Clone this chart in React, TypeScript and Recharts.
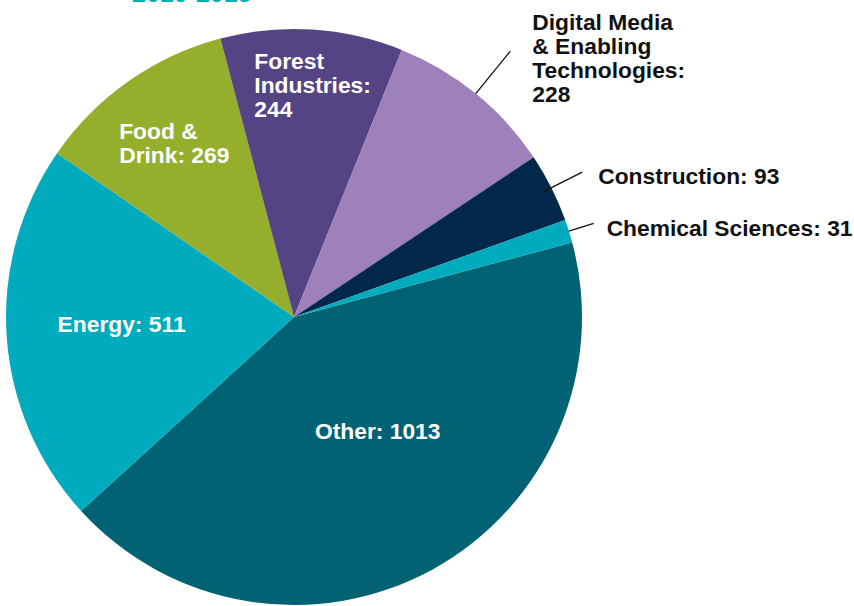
import { PieChart, Pie, Cell } from 'recharts';

const names = ['Other', 'Energy', 'Food & Drink', 'Forest Industries', 'Digital Media & Enabling Technologies', 'Construction', 'Chemical Sciences'];
const values = [1013, 511, 269, 244, 228, 93, 31];
const labelLines = [
  ['Other: 1013'],
  ['Energy: 511'],
  ['Food &', 'Drink: 269'],
  ['Forest', 'Industries:', '244'],
  ['Digital Media', '& Enabling', 'Technologies:', '228'],
  ['Construction: 93'],
  ['Chemical Sciences: 31'],
];
const colors = ['#006272', '#00ABBD', '#95AF2D', '#554483', '#9E80BB', '#04284A', '#00ABBD'];

const data = names.map((name, i) => ({ name, value: values[i], lines: labelLines[i] }));

// where each label goes: inside ones sit on the mid ray, outside ones get a leader line
const labelStyle: Record<string, { r: number; dx: number; dy: number; anchor: 'start' | 'middle'; outside?: boolean; r0?: number }> = {
  Other: { r: 0.49, dx: 16, dy: -2, anchor: 'middle' },
  Energy: { r: 0.6, dx: 0, dy: 3, anchor: 'middle' },
  'Food & Drink': { r: 0.73, dx: -54, dy: -6, anchor: 'start' },
  'Forest Industries': { r: 0.8, dx: -54, dy: -18, anchor: 'start' },
  'Digital Media & Enabling Technologies': { r: 1.19, r0: 1.0, dx: 22, dy: -21, anchor: 'start', outside: true },
  Construction: { r: 1.12, r0: 0.97, dx: 16, dy: 12, anchor: 'start', outside: true },
  'Chemical Sciences': { r: 1.09, r0: 1.0, dx: 13, dy: 13, anchor: 'start', outside: true },
};

const RADIAN = Math.PI / 180;

function renderLabel(props: any) {
  const { cx, cy, midAngle, outerRadius, payload, name } = props;
  const key = payload?.name ?? name;
  const s = labelStyle[key];
  const lines: string[] = payload?.lines ?? [key];
  const cos = Math.cos(-midAngle * RADIAN);
  const sin = Math.sin(-midAngle * RADIAN);
  const px = cx + outerRadius * s.r * cos;
  const py = cy + outerRadius * s.r * sin;
  const fill = s.outside ? '#111' : '#fff';
  return (
    <g>
      {s.outside && (
        <line
          x1={cx + outerRadius * (s.r0 ?? 1) * cos}
          y1={cy + outerRadius * (s.r0 ?? 1) * sin}
          x2={px}
          y2={py}
          stroke="#111"
          strokeWidth={1.3}
        />
      )}
      <text
        x={px + s.dx}
        y={py + s.dy}
        textAnchor={s.anchor}
        fill={fill}
        fontSize={22.8}
        fontWeight="bold"
        fontFamily="'Liberation Sans', Arial, sans-serif"
      >
        {lines.map((l, i) => (
          <tspan key={i} x={px + s.dx} dy={i === 0 ? 0 : 24}>
            {l}
          </tspan>
        ))}
      </text>
    </g>
  );
}

export default function App() {
  return (
    <div style={{ position: 'absolute', top: 0, left: 0, width: 854, height: 606, background: '#fff', overflow: 'hidden' }}>
      <div
        style={{
          position: 'absolute',
          left: 132,
          top: -22,
          fontFamily: "'Liberation Sans', Arial, sans-serif",
          fontWeight: 'bold',
          fontSize: 25,
          color: '#00ABBD',
          lineHeight: '30px',
        }}
      >
        2010-2015
      </div>
      <PieChart width={854} height={606} margin={{ top: 0, right: 0, bottom: 0, left: 0 }}>
        <Pie
          data={data}
          dataKey="value"
          nameKey="name"
          cx={294}
          cy={317}
          outerRadius={288}
          startAngle={15}
          endAngle={-345}
          stroke="none"
          labelLine={false}
          label={renderLabel}
          isAnimationActive={false}
        >
          {data.map((d, i) => (
            <Cell key={d.name} fill={colors[i]} />
          ))}
        </Pie>
      </PieChart>
    </div>
  );
}
